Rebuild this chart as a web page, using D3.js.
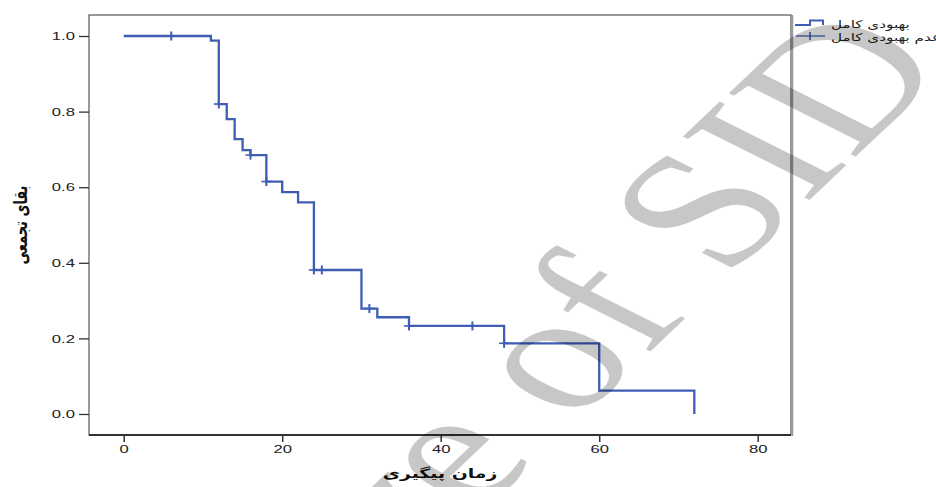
<!DOCTYPE html>
<html>
<head>
<meta charset="utf-8">
<script src="https://cdn.jsdelivr.net/npm/d3@7"></script>
<style>
  body { margin: 0; background: #fff; }
  svg { display: block; }
  .tick line { stroke: #333; }
  .tick text { fill: #222; font-family: "Liberation Sans", Arial, sans-serif; font-size: 11.5px; }
</style>
</head>
<body>
<div id="chart"></div>
<script>
// Kaplan-Meier step curve
const stepTimes = [0, 11, 12, 13, 14, 15, 16, 18, 20, 22, 24, 30, 32, 36, 48, 60, 72];
const survival = [1.0, 0.988, 0.82, 0.78, 0.727, 0.698, 0.685, 0.615, 0.587, 0.56, 0.381, 0.279, 0.256, 0.233, 0.187, 0.062, 0.0];
const censorTimes = [6, 12, 16, 18, 24, 25, 31, 36, 44, 48];
const xTicks = [0, 20, 40, 60, 80];
const yTicks = [0.0, 0.2, 0.4, 0.6, 0.8, 1.0];
const legendLabels = ['بهبودی کامل', 'عدم بهبودی کامل'];
const xTitle = 'زمان پیگیری';
const yTitle = 'بقای تجمعی';

const w = 936, h = 487;
const color = '#3f5db5';
const SX = 1.45; // the picture is stretched sideways, text included
const plot = { left: 89, right: 791, top: 15, bottom: 435 };

const svg = d3.select('#chart').append('svg')
  .attr('width', w)
  .attr('height', h);

const x = d3.scaleLinear()
  .domain([-4.38, 84.2])
  .range([plot.left, plot.right]);

const y = d3.scaleLinear()
  .domain([-0.0556, 1.0556])
  .range([plot.bottom, plot.top]);

// frame
svg.append('rect')
  .attr('x', plot.left)
  .attr('y', plot.top)
  .attr('width', plot.right - plot.left)
  .attr('height', plot.bottom - plot.top)
  .attr('fill', 'none')
  .attr('stroke', '#555')
  .attr('stroke-width', 1.2);
svg.append('line')
  .attr('x1', plot.right + 1.5).attr('x2', plot.right + 1.5)
  .attr('y1', plot.top).attr('y2', plot.bottom + 1)
  .attr('stroke', '#999')
  .attr('stroke-width', 1.5);
svg.append('line')
  .attr('x1', plot.left).attr('x2', plot.right)
  .attr('y1', plot.bottom).attr('y2', plot.bottom)
  .attr('stroke', '#111')
  .attr('stroke-width', 1.3);

// axes
const xAxis = d3.axisBottom(x)
  .tickValues(xTicks)
  .tickSize(7)
  .tickPadding(3)
  .tickFormat(d3.format('d'));
const gx = svg.append('g')
  .attr('transform', `translate(0, ${plot.bottom})`)
  .call(xAxis);
gx.select('.domain').remove();
gx.selectAll('.tick line').attr('stroke-width', 1.5);
gx.selectAll('.tick text').attr('transform', `scale(${SX},1)`);

const yAxis = d3.axisLeft(y)
  .tickValues(yTicks)
  .tickSize(10)
  .tickPadding(3)
  .tickFormat(d3.format('.1f'));
const gy = svg.append('g')
  .attr('transform', `translate(${plot.left}, 0)`)
  .call(yAxis);
gy.select('.domain').remove();
gy.selectAll('.tick line').attr('stroke-width', 1.3);
gy.selectAll('.tick text')
  .attr('x', -14 / SX)
  .attr('transform', `scale(${SX},1)`);

// axis titles
svg.append('text')
  .attr('transform', `translate(${(plot.left + plot.right) / 2}, 478) scale(${SX},1)`)
  .style('text-anchor', 'middle')
  .style('font-family', '"DejaVu Sans", sans-serif')
  .style('font-weight', 'bold')
  .style('font-size', '13px')
  .attr('fill', '#111')
  .text(xTitle);

svg.append('text')
  .attr('transform', `translate(27, ${(plot.top + plot.bottom) / 2}) scale(${SX},1) rotate(-90)`)
  .style('text-anchor', 'middle')
  .style('font-family', '"DejaVu Sans", sans-serif')
  .style('font-weight', 'bold')
  .style('font-size', '13px')
  .attr('fill', '#111')
  .text(yTitle);

// survival curve
const points = stepTimes.map((t, i) => ({ t: t, s: survival[i] }));
const line = d3.line()
  .x(d => x(d.t))
  .y(d => y(d.s))
  .curve(d3.curveStepAfter);

svg.append('path')
  .attr('d', line(points))
  .attr('fill', 'none')
  .attr('stroke', color)
  .attr('stroke-width', 2.3);

// censored marks
const survAt = t => survival[d3.bisectRight(stepTimes, t) - 1];
const marks = svg.append('g').attr('class', 'censor');
censorTimes.forEach(t => {
  const cx = x(t), cy = y(survAt(t));
  marks.append('line')
    .attr('x1', cx - 5).attr('x2', cx + 5)
    .attr('y1', cy).attr('y2', cy)
    .attr('stroke', color).attr('stroke-width', 1.6);
  marks.append('line')
    .attr('x1', cx).attr('x2', cx)
    .attr('y1', cy - 4.5).attr('y2', cy + 4.5)
    .attr('stroke', color).attr('stroke-width', 2);
});

// legend
const legend = svg.append('g').attr('class', 'legend');
legend.append('path')
  .attr('d', 'M795,25 H810 V20.5 H823 V25')
  .attr('fill', 'none')
  .attr('stroke', color)
  .attr('stroke-width', 2);
legend.append('line')
  .attr('x1', 796).attr('x2', 825)
  .attr('y1', 36).attr('y2', 36)
  .attr('stroke', color).attr('stroke-width', 1.3);
legend.append('line')
  .attr('x1', 810).attr('x2', 810)
  .attr('y1', 32).attr('y2', 40)
  .attr('stroke', color).attr('stroke-width', 1.6);

legendLabels.forEach((d, i) => {
  legend.append('text')
    .attr('transform', `translate(831, ${28 + i * 13}) scale(${SX},1)`)
    .style('text-anchor', 'start')
    .style('font-family', '"DejaVu Sans", sans-serif')
    .style('font-size', '10.5px')
    .attr('fill', '#222')
    .text(d);
});

// watermark text, stretched like the rest of the picture
svg.append('text')
  .attr('transform', `translate(953, 64) scale(${SX},1) rotate(-54)`)
  .style('text-anchor', 'end')
  .style('font-family', '"Liberation Serif", "Times New Roman", serif')
  .style('font-size', '165px')
  .attr('fill', '#000')
  .attr('fill-opacity', 0.22)
  .text('Archive of SID');
</script>
</body>
</html>
